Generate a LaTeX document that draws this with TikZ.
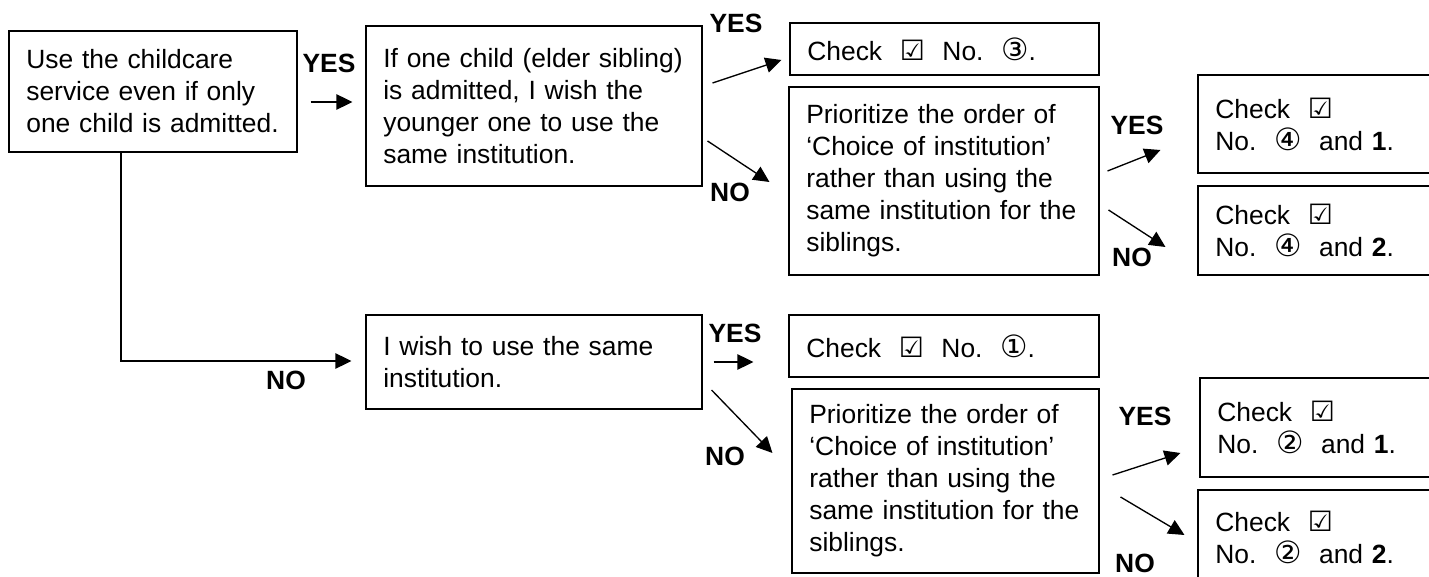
\documentclass[tikz,border=0pt]{standalone}
\usepackage{fontspec}
\setmainfont{Liberation Sans}
\newfontfamily\symfont{DejaVu Sans}
\usepackage{tikz}
\usetikzlibrary{arrows.meta, positioning, calc}
\newcommand{\tick}{{\symfont\fontsize{21}{21}\selectfont ☑}}
\newcommand{\circd}[1]{{\symfont\fontsize{23}{23}\selectfont #1}}

\begin{document}
\begin{tikzpicture}[x=0.75pt, y=-0.75pt,
  every node/.style={font=\fontsize{19.8}{24}\selectfont},
  box/.style={draw, line width=0.8pt, inner xsep=13pt, inner ysep=0pt,
    align=left, text width=#1},
  ans/.style={font=\fontsize{19.8}{24}\selectfont\bfseries},
  arr/.style={-{Triangle[length=12pt,width=11.5pt]}, line width=1pt}
]
  \useasboundingbox (0,0) rectangle (1429,577);

  % Question 1
  \node[box=190pt, minimum height=90.75pt] (use) at (153,91.5)
    {Use the childcare\\service even if only\\one child is admitted.};

  % Yes branch
  \node[box=226pt, minimum height=120pt] (elder) at (534,106)
    {If one child (elder sibling)\\is admitted, I wish the\\younger one to use the\\same institution.};
  \node[box=205.75pt, minimum height=39pt] (chkthree) at (944.5,49)
    {Check~~\tick~~No.~~\circd{③}.};
  \node[box=206.5pt, minimum height=141pt] (prioA) at (944,181)
    {Prioritize the order of\\‘Choice of institution’\\rather than using the\\same institution for the\\siblings.};
  \node[box=155.5pt, minimum height=73.5pt] (chkfourA) at (1319,124)
    {Check~~\tick\\No.~~\circd{④}~~and \textbf{1}.};
  \node[box=155.5pt, minimum height=66.75pt] (chkfourB) at (1319,230.5)
    {Check~~\tick\\No.~~\circd{④}~~and \textbf{2}.};

  % No branch
  \node[box=226pt, minimum height=70.5pt] (same) at (534,362)
    {I wish to use the same\\institution.};
  \node[box=206.5pt, minimum height=46.5pt] (chkone) at (944,346)
    {Check~~\tick~~No.~~\circd{①}.};
  \node[box=204.25pt, minimum height=138pt] (prioB) at (945.5,481)
    {Prioritize the order of\\‘Choice of institution’\\rather than using the\\same institution for the\\siblings.};
  \node[box=154pt, minimum height=74.25pt] (chktwoA) at (1320,427.5)
    {Check~~\tick\\No.~~\circd{②}~~and \textbf{1}.};
  \node[box=155.5pt, minimum height=71.25pt] (chktwoB) at (1319,537.5)
    {Check~~\tick\\No.~~\circd{②}~~and \textbf{2}.};

  % Labels
  \node[ans] (yesA) at (329,63) {YES};
  \node[ans] (yesB) at (736,23) {YES};
  \node[ans] (noB) at (730,192) {NO};
  \node[ans] (yesC) at (1137,125) {YES};
  \node[ans] (noC) at (1132,257) {NO};
  \node[ans] (noA) at (286,380) {NO};
  \node[ans] (yesD) at (735,333) {YES};
  \node[ans] (noD) at (725,456) {NO};
  \node[ans] (yesE) at (1145,416) {YES};
  \node[ans] (noE) at (1135,563) {NO};

  % Arrows
  \draw[arr] ([shift={(13,10.5)}]use.east) -- ([shift={(-13,-4)}]elder.west);
  \draw[arr] ([shift={(10,-23)}]elder.east) -- ([shift={(-8,11)}]chkthree.west);
  \draw[arr] ([shift={(5,35)}]elder.east) -- ([shift={(-19,1)}]prioA.west);
  \draw[arr] ([shift={(8,-10)}]prioA.east) -- ([shift={(-37,26)}]chkfourA.west);
  \draw[arr] ([shift={(9,29)}]prioA.east) -- ([shift={(-32,16.5)}]chkfourB.west);
  \draw[arr] ([xshift=-24]use.south) |- ([shift={(-14,-1)}]same.west);
  \draw[arr] ([shift={(11,0)}]same.east) -- ([shift={(-35,16)}]chkone.west);
  \draw[arr] ([shift={(9,28)}]same.east) -- ([shift={(-19,-28)}]prioB.west);
  \draw[arr] ([shift={(13,-6)}]prioB.east) -- ([shift={(-19,25.5)}]chktwoA.west);
  \draw[arr] ([shift={(21,16)}]prioB.east) -- ([shift={(-13,-2.5)}]chktwoB.west);
\end{tikzpicture}
\end{document}
